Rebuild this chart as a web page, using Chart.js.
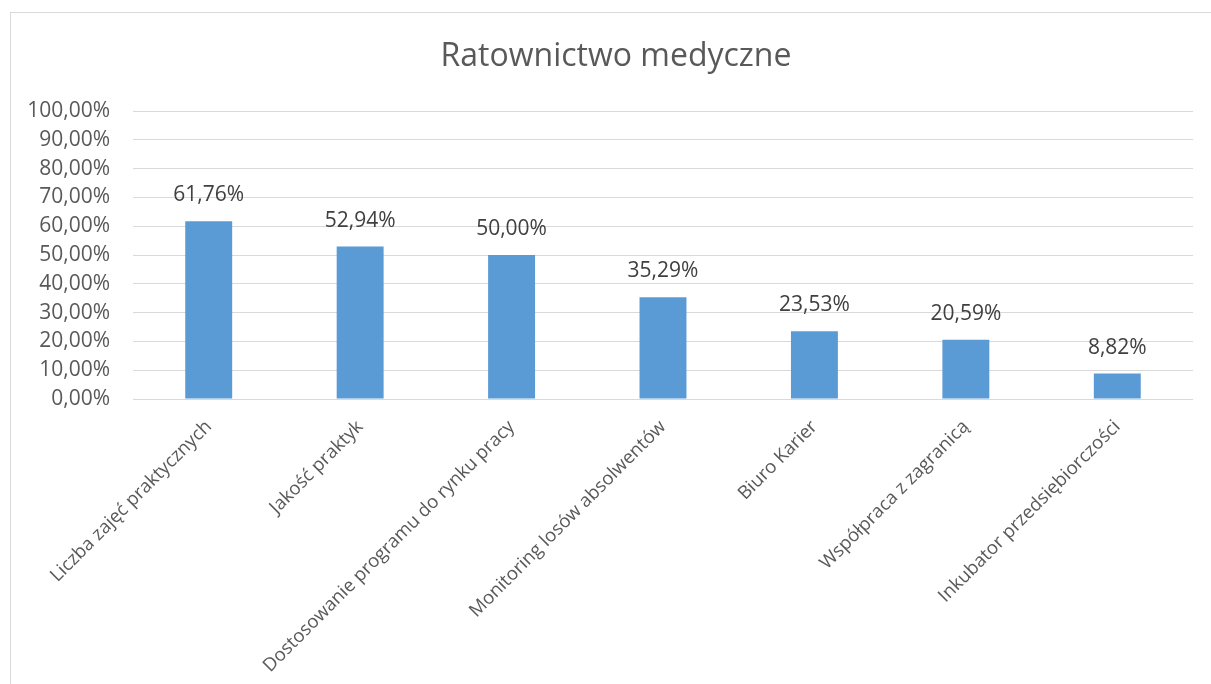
<!DOCTYPE html>
<html>
<head>
<meta charset="utf-8">
<script src="https://cdn.jsdelivr.net/npm/chart.js@4/dist/chart.umd.min.js"></script>
<style>
html,body{margin:0;padding:0;background:#fff;}
#wrap{width:1211px;height:684px;position:relative;}
</style>
</head>
<body>
<div id="wrap"><canvas id="c" width="1211" height="684"></canvas></div>
<script>
const chartTitle = "Ratownictwo medyczne";
const categories = [
  "Liczba zajęć praktycznych",
  "Jakość praktyk",
  "Dostosowanie programu do rynku pracy",
  "Monitoring losów absolwentów",
  "Biuro Karier",
  "Współpraca z zagranicą",
  "Inkubator przedsiębiorczości"
];
const values = [0.6176, 0.5294, 0.5000, 0.3529, 0.2353, 0.2059, 0.0882];
const yTicks = [0, 0.1, 0.2, 0.3, 0.4, 0.5, 0.6, 0.7, 0.8, 0.9, 1.0];

const FONT = "'Open Sans', 'Liberation Sans', sans-serif";
const fmtPct = v => (v * 100).toFixed(2).replace('.', ',') + '%';

const framePlugin = {
  id: 'frame',
  beforeDraw(chart) {
    const ctx = chart.ctx;
    ctx.save();
    ctx.fillStyle = '#ffffff';
    ctx.fillRect(0, 0, chart.width, chart.height);
    ctx.strokeStyle = '#d9d9d9';
    ctx.lineWidth = 1;
    ctx.strokeRect(10.5, 12.5, 1400, 800);
    ctx.fillStyle = '#595959';
    ctx.font = "32px " + FONT;
    ctx.textAlign = 'center';
    ctx.textBaseline = 'middle';
    ctx.fillText(chartTitle, 616, 57);
    ctx.restore();
  }
};

const labelPlugin = {
  id: 'valueLabels',
  afterDatasetsDraw(chart) {
    const ctx = chart.ctx;
    const meta = chart.getDatasetMeta(0);
    ctx.save();
    ctx.fillStyle = '#404040';
    ctx.font = "21px " + FONT;
    ctx.textAlign = 'center';
    ctx.textBaseline = 'middle';
    meta.data.forEach((bar, i) => {
      ctx.fillText(fmtPct(values[i]), bar.x, bar.y - 26);
    });
    ctx.restore();
  }
};

new Chart(document.getElementById('c'), {
  type: 'bar',
  data: {
    labels: categories,
    datasets: [{
      data: values,
      backgroundColor: '#5b9bd5',
      borderWidth: 0,
      categoryPercentage: 1.0,
      barPercentage: 0.31
    }]
  },
  options: {
    responsive: false,
    animation: false,
    devicePixelRatio: 1,
    layout: { padding: { left: 0, right: 18, top: 111, bottom: 0 } },
    plugins: {
      legend: { display: false },
      title: { display: false },
      tooltip: { enabled: false }
    },
    scales: {
      x: {
        grid: { display: false, drawTicks: false },
        border: { display: false },
        ticks: {
          minRotation: 45,
          maxRotation: 45,
          autoSkip: false,
          padding: 17,
          color: '#595959',
          font: { family: FONT, size: 18.5 }
        },
        afterFit(scale) { scale.height = 684 - 399; }
      },
      y: {
        min: 0,
        max: 1,
        afterBuildTicks(scale) { scale.ticks = yTicks.map(v => ({ value: v })); },
        grid: { color: '#d9d9d9', lineWidth: 1, drawTicks: false },
        border: { display: false },
        ticks: {
          padding: 23,
          color: '#595959',
          font: { family: FONT, size: 21 },
          callback: v => fmtPct(v)
        },
        afterFit(scale) { scale.width = 133; }
      }
    }
  },
  plugins: [framePlugin, labelPlugin]
});
</script>
</body>
</html>
